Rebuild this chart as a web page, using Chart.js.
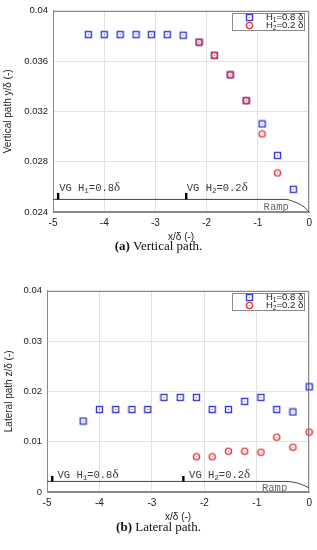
<!DOCTYPE html>
<html><head><meta charset="utf-8">
<script src="https://cdn.jsdelivr.net/npm/chart.js@4/dist/chart.umd.min.js"></script>
<style>
html,body{margin:0;padding:0;background:#fff;width:317px;height:550px;overflow:hidden;position:relative;}
canvas{position:absolute;left:0;}
.cap{position:absolute;left:0;width:317px;text-align:center;font-family:'Liberation Serif','Times New Roman',serif;font-size:13px;color:#111;line-height:14px;}
</style></head><body>
<canvas id="cA" width="317" height="245" style="top:0px"></canvas>
<canvas id="cB" width="317" height="245" style="top:280px"></canvas>
<div class="cap" style="top:239px"><b>(a)</b> Vertical path.</div>
<div class="cap" style="top:520px"><b>(b)</b> Lateral path.</div>
<script>
// ---- data ----
const xH1 = [-4.31, -4.0, -3.69, -3.38, -3.08, -2.77, -2.46, -2.15, -1.85, -1.54, -1.23, -0.92, -0.62, -0.31, 0];
const xH2 = [-2.15, -1.85, -1.54, -1.23, -0.92, -0.62, -0.31, 0];
const vertH1 = [0.0381, 0.0381, 0.0381, 0.0381, 0.0381, 0.0381, 0.03805, 0.0375, 0.03645, 0.0349, 0.03285, 0.0310, 0.0285, 0.0258];
const vertH2 = [0.0375, 0.03645, 0.0349, 0.03285, 0.0302, 0.0271];
const latH1 = [0.0141, 0.0164, 0.0164, 0.0164, 0.0164, 0.0188, 0.0188, 0.0188, 0.0164, 0.0164, 0.0180, 0.0188, 0.0164, 0.0159, 0.0209];
const latH2 = [0.0070, 0.0070, 0.0081, 0.0081, 0.0079, 0.0109, 0.0089, 0.0119];
const xTicks = [-5, -4, -3, -2, -1, 0];
const yTicksVert = [0.024, 0.028, 0.032, 0.036, 0.04];
const yTicksLat = [0, 0.01, 0.02, 0.03, 0.04];
const rampX = [-5, -0.45, -0.3, -0.2, -0.1, 0];
const rampVert = [0.0250, 0.0250, 0.02482, 0.02465, 0.0244, 0.0240];
const rampLat = [0.0021, 0.0021, 0.00195, 0.0017, 0.0013, 0.0008];
const vgX = [-4.9, -2.4];
const labelH1 = 'H1=0.8 δ';
const labelH2 = 'H2=0.2 δ';

const BLUE = '#3a3ad0';
const RED = '#e03a3a';
const MONO = "'Liberation Mono','DejaVu Sans Mono',monospace";
const SANS = "'Liberation Sans',Arial,sans-serif";
const SERIF = "'Liberation Serif','DejaVu Serif',serif";

function marker(shape, color) {
  const c = document.createElement('canvas');
  c.width = 9; c.height = 9;
  const g = c.getContext('2d');
  g.strokeStyle = color; g.lineWidth = 1.4;
  if (shape === 'square') { g.strokeRect(1.5, 1.5, 6, 6); }
  else { g.beginPath(); g.arc(4.5, 4.5, 3.1, 0, Math.PI * 2); g.stroke(); }
  g.fillStyle = color; g.globalAlpha = 0.85; g.fillRect(4, 4, 1, 1);
  return c;
}
const mSq = marker('square', BLUE);
const mCi = marker('circle', RED);

function pts(xs, ys) { return ys.map((y, i) => ({ x: xs[i], y })); }

function drawParts(ctx, parts, x, y, align) {
  let w = 0;
  parts.forEach(p => { ctx.font = p.f; w += ctx.measureText(p.t).width; });
  let cx = align === 'right' ? x - w : x;
  ctx.textAlign = 'left'; ctx.textBaseline = 'alphabetic';
  parts.forEach(p => { ctx.font = p.f; ctx.fillText(p.t, cx, y + (p.dy || 0)); cx += ctx.measureText(p.t).width; });
}
function subParts(label, size, fam) {
  return [
    { t: label[0], f: size + 'px ' + fam },
    { t: label[1], f: (size * 0.72) + 'px ' + fam, dy: 2 },
    { t: label.slice(2), f: size + 'px ' + fam }
  ];
}

const decoPlugin = {
  id: 'deco',
  beforeDatasetsDraw(chart) {
    const a = chart.chartArea, ctx = chart.ctx;
    ctx.save();
    ctx.strokeStyle = '#8a8a8a'; ctx.lineWidth = 1;
    ctx.strokeRect(Math.round(a.left) + 0.5, Math.round(a.top) + 0.5, Math.round(a.right - a.left) - 1, Math.round(a.bottom - a.top) - 1);
    ctx.restore();
  },
  afterDatasetsDraw(chart, args, o) {
    const ctx = chart.ctx, xs = chart.scales.x, ys = chart.scales.y, a = chart.chartArea;
    ctx.save();
    const yl = ys.getPixelForValue(o.lineY);
    ctx.fillStyle = '#000';
    vgX.forEach(v => { const px = xs.getPixelForValue(v); ctx.fillRect(px - 1.2, yl - o.barH, 2.4, o.barH); });
    ctx.fillStyle = '#3a3a3a';
    const ty = ys.getPixelForValue(o.textY);
    const vgTexts = [['1', '=0.8'], ['2', '=0.2']];
    o.textX.forEach((tx, i) => {
      drawParts(ctx, [
        { t: 'VG H', f: '10.5px ' + MONO },
        { t: vgTexts[i][0], f: '7.5px ' + MONO, dy: 2 },
        { t: vgTexts[i][1], f: '10.5px ' + MONO },
        { t: 'δ', f: '13px ' + SERIF }
      ], xs.getPixelForValue(tx), ty, 'left');
    });
    ctx.fillStyle = '#666';
    ctx.font = '10.5px ' + MONO;
    ctx.textAlign = 'left'; ctx.textBaseline = 'alphabetic';
    ctx.fillText('Ramp', xs.getPixelForValue(o.rampTextX), ys.getPixelForValue(o.rampTextY));
    const R = a.right - 4, T = a.top + 2;
    ctx.fillStyle = '#fff';
    ctx.fillRect(R - 73, T, 73, 18);
    ctx.strokeStyle = '#8a8a8a'; ctx.lineWidth = 1;
    ctx.strokeRect(Math.round(R - 73) + 0.5, Math.round(T) + 0.5, 72, 17);
    const mx = R - 56;
    ctx.drawImage(mSq, Math.round(mx - 4.5), Math.round(T + 4.5 - 4.5));
    ctx.drawImage(mCi, Math.round(mx - 4.5), Math.round(T + 12.5 - 4.5));
    ctx.fillStyle = '#222';
    drawParts(ctx, subParts(chart.data.datasets[0].label, 9.5, SANS), R - 2, T + 7.5, 'right');
    drawParts(ctx, subParts(chart.data.datasets[1].label, 9.5, SANS), R - 2, T + 15.5, 'right');
    ctx.restore();
  }
};

function makeChart(id, cfg) {
  return new Chart(document.getElementById(id), {
    type: 'scatter',
    data: {
      datasets: [
        { label: labelH1, data: pts(xH1, cfg.h1), pointStyle: mSq, pointRadius: 4, clip: false, order: 1 },
        { label: labelH2, data: pts(xH2, cfg.h2), pointStyle: mCi, pointRadius: 4, clip: false, order: 0 },
        { label: 'ramp', data: pts(rampX, cfg.ramp), showLine: true, borderColor: '#444', borderWidth: 1, pointRadius: 0, cubicInterpolationMode: 'monotone', order: 5 }
      ]
    },
    options: {
      responsive: false, animation: false, devicePixelRatio: 1,
      layout: { padding: { top: cfg.padTop, right: cfg.padRight, left: 0, bottom: 0 } },
      plugins: {
        legend: { display: false }, tooltip: { enabled: false },
        deco: cfg.deco
      },
      scales: {
        x: {
          type: 'linear', min: -5, max: 0,
          afterBuildTicks: s => { s.ticks = xTicks.map(v => ({ value: v })); },
          afterFit: s => { s.height = cfg.xH; },
          ticks: { color: '#222', font: { family: SANS, size: 10 }, padding: 5, callback: v => String(v) },
          grid: { color: '#e2e2e2', drawTicks: false },
          border: { color: '#8a8a8a' },
          title: { display: true, text: 'x/δ (-)', color: '#222', font: { family: SANS, size: 10 }, padding: { top: 0, bottom: 2 } }
        },
        y: {
          type: 'linear', min: cfg.yTicks[0], max: cfg.yTicks[cfg.yTicks.length - 1],
          afterBuildTicks: s => { s.ticks = cfg.yTicks.map(v => ({ value: v })); },
          afterFit: s => { s.width = cfg.yW; },
          ticks: { color: '#222', font: { family: SANS, size: 9.5 }, padding: 5, callback: v => String(parseFloat(v.toFixed(4))) },
          grid: { color: '#e2e2e2', drawTicks: false },
          border: { color: '#8a8a8a' },
          title: { display: true, text: cfg.yTitle, color: '#222', font: { family: SANS, size: 10 }, padding: { top: cfg.titlePad, bottom: 0 } }
        }
      }
    },
    plugins: [decoPlugin]
  });
}

makeChart('cA', {
  h1: vertH1, h2: vertH2, ramp: rampVert, yTicks: yTicksVert,
  yTitle: 'Vertical path y/δ (-)', padTop: 10, padRight: 5, xH: 33, yW: 53, titlePad: 2,
  deco: { lineY: 0.0250, barH: 6.5, textX: [-4.88, -2.39], textY: 0.02568, rampTextX: -0.89, rampTextY: 0.02416 }
});
makeChart('cB', {
  h1: latH1, h2: latH2, ramp: rampLat, yTicks: yTicksLat,
  yTitle: 'Lateral path z/δ (-)', padTop: 9, padRight: 6, xH: 33, yW: 47, titlePad: 3,
  deco: { lineY: 0.0021, barH: 5.5, textX: [-4.80, -2.29], textY: 0.00288, rampTextX: -0.90, rampTextY: 0.00012 }
});
</script>
</body></html>
